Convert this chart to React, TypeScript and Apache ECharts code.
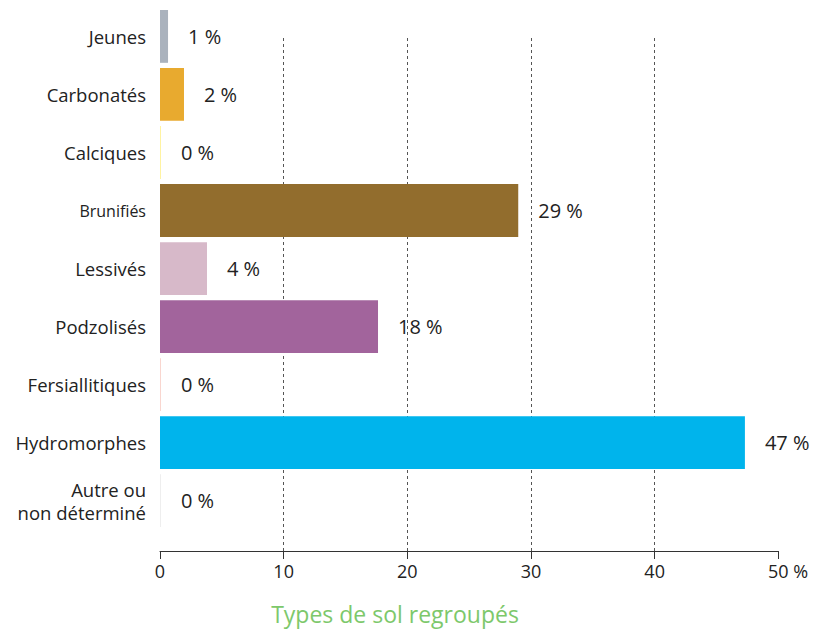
import React, { useEffect, useRef } from "react";
import * as echarts from "echarts";

const categories = [
  "Jeunes",
  "Carbonatés",
  "Calciques",
  "Brunifiés",
  "Lessivés",
  "Podzolisés",
  "Fersiallitiques",
  "Hydromorphes",
  "Autre ou\nnon déterminé",
];
const values = [0.65, 1.94, 0.08, 28.97, 3.8, 17.63, 0.08, 47.3, 0.08];
const valueLabels = ["1 %", "2 %", "0 %", "29 %", "4 %", "18 %", "0 %", "47 %", "0 %"];
const colors = ["#aab2bd", "#e8aa2f", "#fff3a0", "#926d2d", "#d7b9c9", "#a2649c", "#f9d6cf", "#00b4ec", "#eeeeee"];
const xTickValues = [0, 10, 20, 30, 40, 50];
const xTickLabels = ["0", "10", "20", "30", "40", "50 %"];
const axisTitle = "Types de sol regroupés";

const FONT = "'Open Sans', 'Noto Sans', sans-serif";

export default function App() {
  const ref = useRef<HTMLDivElement>(null);
  useEffect(() => {
    if (!ref.current) return;
    const chart = echarts.init(ref.current, null, { renderer: "svg" });
    const option = {
      animation: false,
      backgroundColor: "#ffffff",
      textStyle: { fontFamily: FONT },
      grid: [
        { left: 160, right: 44.7, top: 7.4, height: 522.3, containLabel: false },
        { left: 160, right: 44.7, top: 38, height: 513, containLabel: false },
      ],
      xAxis: [
        { type: "value", gridIndex: 0, min: 0, max: 50, show: false },
        {
          type: "value",
          gridIndex: 1,
          min: 0,
          max: 50,
          interval: 10,
          axisLine: { show: true, lineStyle: { color: "#333", width: 1 } },
          axisTick: { show: true, length: 8, lineStyle: { color: "#333", width: 1 } },
          axisLabel: {
            margin: 11,
            fontSize: 18,
            color: "#222",
            fontFamily: FONT,
            formatter: (v: number) => {
              const i = xTickValues.indexOf(v);
              const t = i >= 0 ? xTickLabels[i] : String(v);
              if (t.indexOf("%") >= 0) {
                return "{h|\u00a0%}" + t.replace(" ", "\u00a0");
              }
              return t;
            },
            rich: { h: { color: "transparent", fontSize: 18, fontFamily: FONT } },
          },
          splitLine: {
            show: true,
            showMinLine: false,
            showMaxLine: false,
            lineStyle: { color: "#555", type: [3, 3], width: 1 },
          },
        },
      ],
      yAxis: [
        {
          type: "category",
          gridIndex: 0,
          inverse: true,
          data: categories,
          axisLine: { show: false },
          axisTick: { show: false },
          axisLabel: {
            margin: 14,
            fontSize: 18.5,
            lineHeight: 23,
            color: "#222",
            fontFamily: FONT,
            formatter: (v: string) => (v === "Brunifiés" ? "{s|" + v + "}" : v),
            rich: { s: { fontSize: 16, color: "#222", fontFamily: FONT } },
          },
        },
        { type: "value", gridIndex: 1, show: false, min: 0, max: 1 },
      ],
      series: [
        {
          type: "bar",
          xAxisIndex: 0,
          yAxisIndex: 0,
          barCategoryGap: "9%",
          z: 3,
          data: values.map((v, i) => ({ value: v, itemStyle: { color: colors[i] } })),
          label: {
            show: true,
            position: "right",
            distance: 20,
            fontSize: 20,
            color: "#222",
            fontFamily: FONT,
            formatter: (p: any) => valueLabels[p.dataIndex],
          },
        },
      ],
      graphic: [
        {
          type: "text",
          x: 395,
          y: 614,
          style: {
            text: axisTitle,
            fill: "#7dc86b",
            fontSize: 23,
            fontFamily: FONT,
            textAlign: "center",
            textVerticalAlign: "middle",
          },
        },
      ],
    };
    chart.setOption(option as any);
    return () => chart.dispose();
  }, []);
  return (
    <div
      ref={ref}
      style={{ position: "fixed", left: 0, top: 0, width: 823, height: 630 }}
    />
  );
}
